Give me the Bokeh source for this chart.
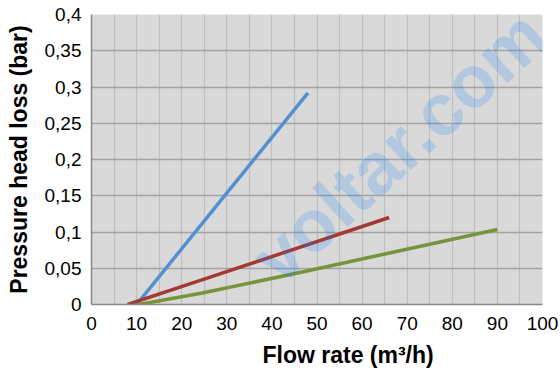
from bokeh.plotting import figure
from bokeh.models import FixedTicker, CustomJSTickFormatter, Label, Range1d, Title
from bokeh.embed import file_html
from bokeh.resources import INLINE

# ---- data ----
x_ticks = [0, 10, 20, 30, 40, 50, 60, 70, 80, 90, 100]
x_minor = [5, 15, 25, 35, 45, 55, 65, 75, 85, 95]
y_ticks = [0, 0.05, 0.1, 0.15, 0.2, 0.25, 0.3, 0.35, 0.4]

blue_x = [10, 29, 48]
blue_y = [0, 0.146, 0.292]

red_x = [8, 24.3, 66]
red_y = [0, 0.0335, 0.12]

green_x = [10.5, 24.3, 46.5, 90]
green_y = [0, 0.0155, 0.0445, 0.1035]

FONT = "Liberation Sans"

p = figure(width=560, height=374,
           x_range=Range1d(0, 100), y_range=Range1d(0, 0.4),
           output_backend="svg", toolbar_location=None,
           min_border_left=91, min_border_right=18,
           min_border_top=14, min_border_bottom=70)

p.background_fill_color = "#d9d9d9"
p.border_fill_color = "white"
p.outline_line_color = None

# grids
p.xgrid.ticker = FixedTicker(ticks=x_ticks, minor_ticks=x_minor)
p.xgrid.grid_line_color = "#bfbfbf"
p.xgrid.minor_grid_line_color = "#bfbfbf"
p.xgrid.grid_line_width = 1.2
p.xgrid.minor_grid_line_width = 1.2
p.ygrid.ticker = FixedTicker(ticks=y_ticks)
p.ygrid.grid_line_color = "#a3a3a3"
p.ygrid.grid_line_width = 1.5

# axes
p.xaxis.ticker = FixedTicker(ticks=x_ticks)
p.yaxis.ticker = FixedTicker(ticks=y_ticks)
p.yaxis.formatter = CustomJSTickFormatter(code="""
let s = tick.toFixed(2).replace(/0+$/, '').replace(/\\.$/, '');
return s.replace('.', ',');
""")
for ax in (p.xaxis[0], p.yaxis[0]):
    ax.major_tick_line_color = None
    ax.minor_tick_line_color = None
    ax.major_tick_out = 0
    ax.major_tick_in = 0
    ax.axis_line_color = "#868686"
    ax.axis_line_width = 1.5
    ax.major_label_text_font = FONT
    ax.major_label_text_font_size = "19px"
    ax.major_label_text_color = "#000000"
    ax.axis_label_text_font = FONT
    ax.axis_label_text_font_size = "23px"
    ax.axis_label_text_font_style = "bold"
    ax.axis_label_text_color = "#000000"

p.xaxis.major_label_standoff = 12
p.yaxis.major_label_standoff = 10
p.yaxis.axis_label = "Pressure head loss (bar)"
p.yaxis.axis_label_standoff = 10

# x-axis title (sits right of centre in the original)
xt = Title(text="Flow rate (m³/h)", align="left", offset=167, standoff=6,
           padding=4,
           text_font=FONT, text_font_size="23px", text_font_style="bold",
           text_color="#000000")
p.add_layout(xt, "below")

# series
p.line(blue_x, blue_y, line_color="#558ED5", line_width=3.5)
p.line(red_x, red_y, line_color="#A33A33", line_width=3.5)
p.line(green_x, green_y, line_color="#77933C", line_width=3.5)

# watermark
p.add_layout(Label(x=38.1, y=0.0497, text="voltar.com.", angle=42, angle_units="deg",
                   text_font=FONT, text_font_size="73px", text_font_style="bold",
                   text_baseline="alphabetic",
                   text_color="#0078ff", text_alpha=0.18))

open("out.html", "w").write(file_html(p, INLINE))
